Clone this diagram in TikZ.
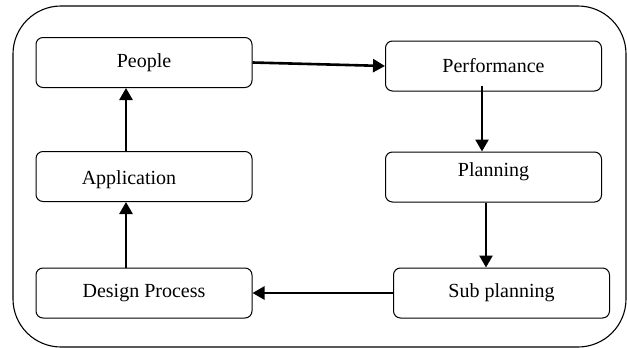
\documentclass[tikz,border=0pt]{standalone}
\usepackage{fontspec}
\setmainfont{Liberation Serif}
\usetikzlibrary{arrows.meta}
\begin{document}
\begin{tikzpicture}[x=1pt,y=-1pt,
  box/.style={draw,line width=1pt,rounded corners=7pt,minimum width=216pt,minimum height=50pt,inner sep=0pt,font=\fontsize{20}{24}\selectfont},
  txt/.style={inner sep=0pt,font=\fontsize{20}{24}\selectfont},
  arr/.style={line width=2.6pt,-{Triangle[length=12pt,width=13pt]}}]
\useasboundingbox (0,0) rectangle (627,348);
\draw[line width=1.1pt,rounded corners=48pt] (13,6) rectangle (626,347);
\node[box] (people) at (144,62.5) {People};
\node[box] (app) at (144,176.5) {};
\node[txt] (apptext) at (129,180) {Application};
\node[box] (design) at (144,293) {Design Process};
\node[box] (perf) at (493.5,66) {Performance};
\node[box] (plan) at (493.5,177) {};
\node[txt] (plantext) at (493.5,172) {Planning};
\node[box] (sub) at (501.5,293) {Sub planning};
\draw[arr] (people.east) -- (perf.west);
\draw[arr] ([xshift=-11.5pt,yshift=6pt]perf.south) -- ([xshift=-11.5pt]plan.north);
\draw[arr] ([xshift=-7.5pt]plan.south) -- ([xshift=-15.5pt]sub.north);
\draw[arr] (sub.west) -- (design.east);
\draw[arr] ([xshift=-18pt]design.north) -- ([xshift=-18pt]app.south);
\draw[arr] ([xshift=-18pt]app.north) -- ([xshift=-18pt]people.south);
\end{tikzpicture}
\end{document}
